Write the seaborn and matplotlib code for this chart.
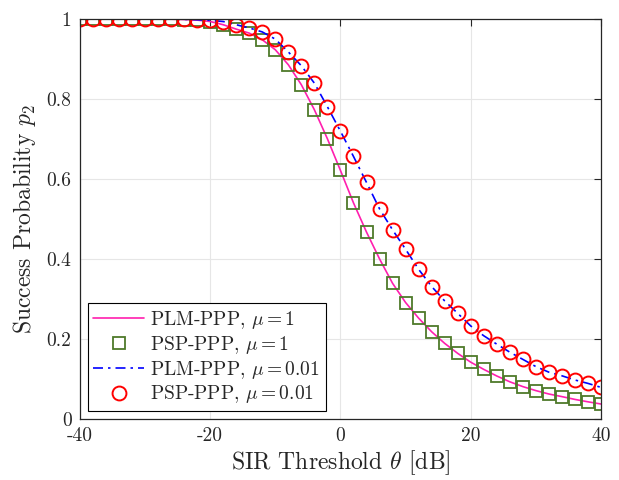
import matplotlib
matplotlib.use('Agg')
from matplotlib import pyplot as plt
import pandas as pd
import seaborn as sns

theta_db = list(range(-40, 42, 2))

p2_mu1 = [1.0, 1.0, 1.0, 0.9999, 0.9998, 0.9996, 0.9993, 0.9988, 0.998, 0.9965,
          0.993, 0.985, 0.974, 0.964, 0.9475, 0.9225, 0.885, 0.835, 0.7725, 0.70,
          0.621, 0.54, 0.467, 0.40, 0.339, 0.291, 0.252, 0.218, 0.189, 0.164,
          0.142, 0.124, 0.1075, 0.093, 0.081, 0.071, 0.0625, 0.056, 0.049, 0.043,
          0.0375]

p2_mu001 = [1.0, 1.0, 1.0, 0.9999, 0.9998, 0.9997, 0.9995, 0.9992, 0.9985, 0.9975,
            0.996, 0.993, 0.985, 0.977, 0.967, 0.949, 0.917, 0.8825, 0.839, 0.78,
            0.719, 0.656, 0.591, 0.525, 0.4725, 0.424, 0.374, 0.331, 0.295, 0.264,
            0.2325, 0.208, 0.187, 0.167, 0.149, 0.131, 0.117, 0.108, 0.0975, 0.089,
            0.079]

df = pd.DataFrame({'theta': theta_db, 'mu1': p2_mu1, 'mu001': p2_mu001})

sns.set_style('whitegrid')
plt.rcParams['font.family'] = ['cmr10', 'DejaVu Serif']
plt.rcParams['mathtext.fontset'] = 'cm'
plt.rcParams['axes.unicode_minus'] = False
plt.rcParams['axes.formatter.use_mathtext'] = True

f, ax = plt.subplots(figsize=(6.19, 4.80), dpi=100)
f.subplots_adjust(left=0.129, right=0.971, bottom=0.127, top=0.961)

pink = '#ff1fae'
green = '#4e7a2a'

sns.lineplot(data=df, x='theta', y='mu1', ax=ax, color=pink, lw=1.2,
             label=r'PLM-PPP, $\mu = 1$')
sns.lineplot(data=df, x='theta', y='mu1', ax=ax, color=green, ls='', marker='s',
             markersize=8.5, markerfacecolor='none', markeredgecolor=green,
             markeredgewidth=1.3, label=r'PSP-PPP, $\mu = 1$')
sns.lineplot(data=df, x='theta', y='mu001', ax=ax, color='#0000ff', lw=1.2,
             ls=(0, (6, 3, 1.5, 3)), label=r'PLM-PPP, $\mu = 0.01$')
sns.lineplot(data=df, x='theta', y='mu001', ax=ax, color='red', ls='', marker='o',
             markersize=10, markerfacecolor='none', markeredgecolor='red',
             markeredgewidth=1.4, label=r'PSP-PPP, $\mu = 0.01$')

ax.set_xlim(-40, 40)
ax.set_ylim(0, 1)
ax.set_xticks([-40, -20, 0, 20, 40])
ax.set_xticklabels(['-40', '-20', '0', '20', '40'])
ax.set_yticks([0, 0.2, 0.4, 0.6, 0.8, 1])
ax.set_yticklabels(['0', '0.2', '0.4', '0.6', '0.8', '1'])
ax.tick_params(direction='in', length=5, width=0.8, labelsize=14, color='#262626',
               top=True, right=True, pad=6)
ax.grid(True, color='#e6e6e6', lw=0.8)
for s in ax.spines.values():
    s.set_color('#262626')
    s.set_linewidth(0.9)

ax.set_xlabel(r'SIR Threshold $\theta$ [dB]', fontsize=17, color='#262626', labelpad=2)
ax.set_ylabel(r'Success Probability $p_2$', fontsize=17, color='#262626', labelpad=6)

leg = ax.legend(loc='lower left', fontsize=14, frameon=True, fancybox=False,
                edgecolor='black', framealpha=1, handlelength=2.6,
                borderpad=0.3, labelspacing=0.15, handletextpad=0.3,
                borderaxespad=0.4)
leg.get_frame().set_linewidth(0.8)

f.savefig('out.png', dpi=100)
